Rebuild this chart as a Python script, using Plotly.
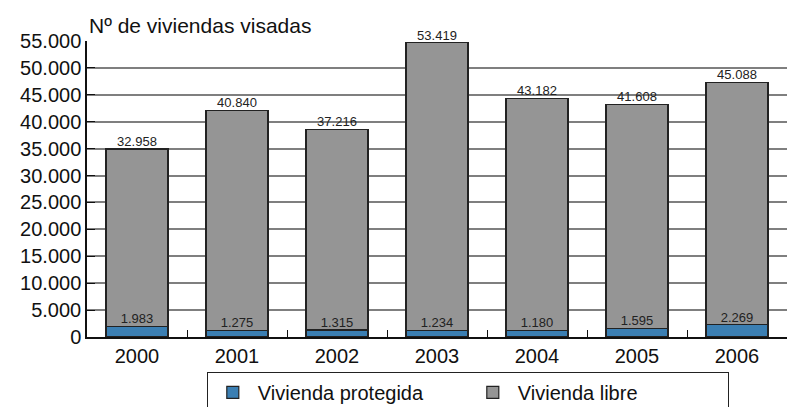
import plotly.graph_objects as go

# data
years = ['2000', '2001', '2002', '2003', '2004', '2005', '2006']
protegida = [1983, 1275, 1315, 1234, 1180, 1595, 2269]
libre = [32958, 40840, 37216, 53419, 43182, 41608, 45088]
y_ticks = [0, 5000, 10000, 15000, 20000, 25000, 30000, 35000, 40000, 45000, 50000, 55000]


def fmt(v):
    return f'{v:,}'.replace(',', '.')


totals = [p + l for p, l in zip(protegida, libre)]

fig = go.Figure()

fig.add_trace(go.Bar(
    x=years, y=protegida, name='Vivienda protegida',
    marker=dict(color='#3b7fb3', line=dict(color='#222222', width=1.2)),
    width=0.62,
))
fig.add_trace(go.Bar(
    x=years, y=libre, name='Vivienda libre',
    marker=dict(color='#959595', line=dict(color='#222222', width=1.2)),
    width=0.62,
))

# value labels
fig.add_trace(go.Scatter(
    x=years, y=protegida, mode='text', text=[fmt(v) for v in protegida],
    textposition='top center', textfont=dict(size=13, color='#222222'),
    showlegend=False, hoverinfo='skip', cliponaxis=False,
))
fig.add_trace(go.Scatter(
    x=years, y=totals, mode='text', text=[fmt(v) for v in libre],
    textposition='top center', textfont=dict(size=13, color='#222222'),
    showlegend=False, hoverinfo='skip', cliponaxis=False,
))

# the page body adds 8px on the left and top, so margins are shifted
fig.update_layout(
    width=797, height=407,
    barmode='stack',
    separators=',.',
    paper_bgcolor='white', plot_bgcolor='white',
    font=dict(family='Liberation Sans, Arial, sans-serif', color='#111111', size=20),
    margin=dict(l=79, r=18, t=33, b=78, autoexpand=False),
    showlegend=True,
    legend=dict(
        orientation='h', x=0.544, xanchor='center', y=-0.118, yanchor='top',
        bordercolor='#222222', borderwidth=1, font=dict(size=20),
        traceorder='normal', itemwidth=40,
        entrywidth=205, entrywidthmode='pixels',
    ),
    annotations=[dict(
        text='Nº de viviendas visadas', xref='paper', yref='paper',
        x=0, y=1, xanchor='left', yanchor='bottom', yshift=2,
        showarrow=False, font=dict(size=21),
    )],
)

fig.update_xaxes(
    showline=True, linecolor='#111111', linewidth=1.5,
    ticks='inside', ticklen=7, tickcolor='#111111', tickson='boundaries',
    tickfont=dict(size=20), showgrid=False, automargin=False,
)
fig.update_yaxes(
    range=[0, 55000], tickvals=y_ticks, tickformat=',d',
    showline=True, linecolor='#111111', linewidth=1.5,
    ticks='inside', ticklen=8, tickcolor='#111111',
    showgrid=True, gridcolor='#7f7f7f', gridwidth=1.5,
    zeroline=False, tickfont=dict(size=20), automargin=False,
)

fig.write_html('out.html')
